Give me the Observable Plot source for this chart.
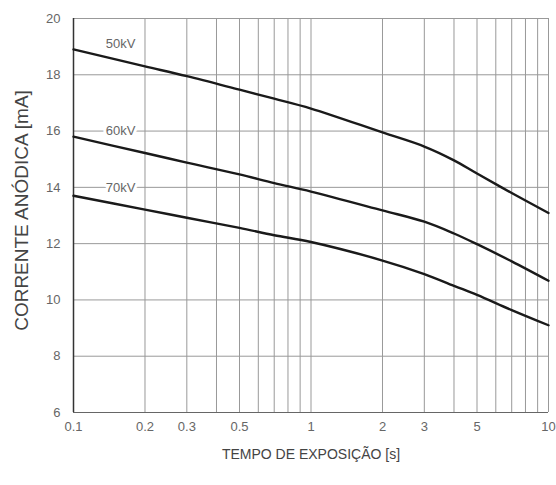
<!DOCTYPE html>
<html>
<head>
<meta charset="utf-8">
<script src="https://cdn.jsdelivr.net/npm/d3@7"></script>
<script src="https://cdn.jsdelivr.net/npm/@observablehq/plot@0.6"></script>
<style>
  body { margin: 0; background: #fff; }
  #chart { width: 556px; height: 485px; }
</style>
</head>
<body>
<div id="chart"></div>
<script>
// Exposure time [s]
const times = [0.1, 0.2, 0.3, 0.5, 0.7, 1, 2, 3, 4, 5, 7, 10];
// Anode current [mA] per tube voltage
const kv50 = [18.9, 18.3, 17.95, 17.47, 17.15, 16.8, 15.95, 15.45, 14.96, 14.49, 13.8, 13.09];
const kv60 = [15.8, 15.22, 14.88, 14.46, 14.15, 13.85, 13.18, 12.78, 12.36, 11.98, 11.37, 10.68];
const kv70 = [13.7, 13.21, 12.92, 12.56, 12.3, 12.06, 11.4, 10.92, 10.5, 10.18, 9.64, 9.1];
const seriesNames = ["50kV", "60kV", "70kV"];
const labelX = [0.158, 0.158, 0.158];
const labelY = [19.1, 16, 14];

const xTicks = [0.1, 0.2, 0.3, 0.5, 0.7, 1, 2, 3, 5, 7, 10];
const xTickLabels = ["0.1", "0.2", "0.3", "0.5", "0.7", "1", "2", "3", "5", "7", "10"];
const xGrid = [0.1,0.2,0.3,0.4,0.5,0.6,0.7,0.8,0.9,1,2,3,4,5,6,7,8,9,10];
const yTicks = [6, 8, 10, 12, 14, 16, 18, 20];

const allSeries = [kv50, kv60, kv70];
const rows = [];
allSeries.forEach((vals, s) => vals.forEach((v, i) => rows.push({series: seriesNames[s], t: times[i], mA: v})));
const labels = seriesNames.map((n, i) => ({name: n, t: labelX[i], mA: labelY[i]}));

const chart = Plot.plot({
  width: 556,
  height: 485,
  marginLeft: 73,
  marginRight: 8,
  marginTop: 18,
  marginBottom: 73,
  style: {fontFamily: "Liberation Sans, Arial, sans-serif", fontSize: "13px", color: "#555", background: "#fff"},
  x: {type: "log", domain: [0.1, 10], label: null},
  y: {domain: [6, 20], label: null},
  marks: [
    Plot.ruleX(xGrid, {x: d => d, stroke: "#999", strokeWidth: 1}),
    Plot.ruleY(yTicks, {y: d => d, stroke: "#999", strokeWidth: 1}),
    Plot.ruleX([0.1], {stroke: "#333", strokeWidth: 1.5}),
    Plot.ruleY([6], {stroke: "#666", strokeWidth: 1.2}),
    Plot.axisX({ticks: xTicks, tickFormat: (d) => xTickLabels[xTicks.indexOf(d)], tickSize: 0, tickPadding: 9, fontSize: 13, fill: "#666", label: null}),
    Plot.axisY({ticks: yTicks, tickSize: 0, tickPadding: 13, fontSize: 13, fill: "#666", label: null}),
    Plot.line(rows, {x: "t", y: "mA", z: "series", stroke: "#1a1a1a", strokeWidth: 2.4, curve: "catmull-rom"}),
    Plot.text(labels, {x: "t", y: "mA", text: "name", fill: "#666", stroke: "white", strokeWidth: 6, fontSize: 13}),
    Plot.text(["TEMPO DE EXPOSIÇÃO [s]"], {x: [1], y: [6], frameAnchor: "bottom", dy: 46, text: d => d, fill: "#444", fontSize: 14}),
    Plot.text(["CORRENTE ANÓDICA [mA]"], {frameAnchor: "left", textAnchor: "middle", dx: -52, dy: -5, rotate: -90, text: d => d, fill: "#444", fontSize: 19})
  ]
});
document.getElementById("chart").appendChild(chart);
</script>
</body>
</html>
